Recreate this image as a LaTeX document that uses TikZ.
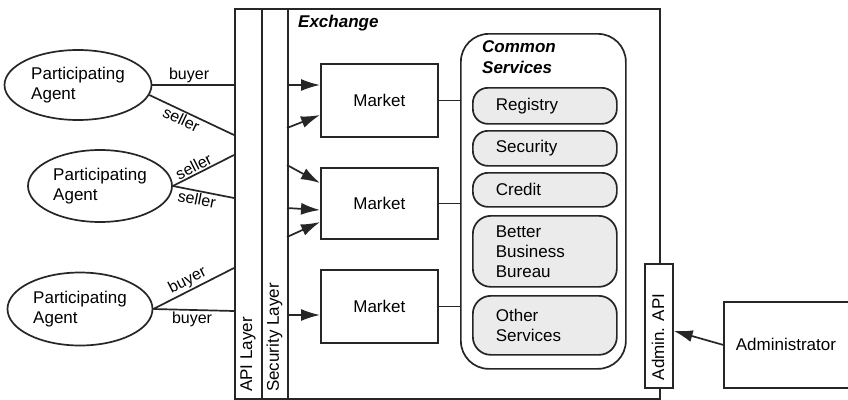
\documentclass[tikz,border=0pt]{standalone}
\usepackage{fontspec}
\setmainfont{Liberation Sans}
\usetikzlibrary{arrows.meta,shapes.geometric,calc}
\begin{document}
\begin{tikzpicture}[x=1pt,y=-1pt,
  every node/.style={font=\fontsize{17}{20}\selectfont},
  ln/.style={line width=1.7pt, draw=black!85},
  box/.style={ln, fill=white, inner sep=0pt, anchor=north west},
  ag/.style={ln, ellipse, inner sep=0pt, align=left},
  pill/.style={ln, fill=black!8, inner sep=0pt, anchor=north west, minimum width=144pt, text width=98pt, align=left},
  lab/.style={font=\fontsize{16}{18}\selectfont, inner sep=1.5pt},
  title/.style={font=\fontsize{17}{21}\selectfont\bfseries\itshape, anchor=north west, inner sep=0pt, align=left},
  arr/.style={ln, -{Latex[length=19pt,width=12pt]}},
]
\useasboundingbox (0,0) rectangle (848,399);
\fill[white] (0,0) rectangle (848,399);

% Exchange frame and layers
\node[box, minimum width=425pt, minimum height=390pt] (ex) at (234,8) {};
\node[title] (exl) at (298,15) {Exchange};
\node[box, minimum width=27pt, minimum height=390pt] (api) at (234,8) {};
\node[box, minimum width=26pt, minimum height=390pt] (sec) at (261,8) {};
\node[rotate=90, anchor=west, inner sep=0pt] (apil) at (248,392) {API Layer};
\node[rotate=90, anchor=west, inner sep=0pt] (secl) at (274.5,392) {Security Layer};

% Markets
\node[box, minimum width=117pt, minimum height=73pt] (m1) at (320,63) {Market};
\node[box, minimum width=117pt, minimum height=71pt] (m2) at (320,167) {Market};
\node[box, minimum width=117pt, minimum height=73pt] (m3) at (320,269) {Market};

% Common services
\node[box, minimum width=165pt, minimum height=335pt, rounded corners=28pt] (cs) at (460,33) {};
\node[title] (cst) at (482,40) {Common\\Services};
\node[pill, minimum height=36pt, rounded corners=15pt] (reg) at (472,87) {Registry};
\node[pill, minimum height=35pt, rounded corners=15pt] (secs) at (472,130) {Security};
\node[pill, minimum height=34pt, rounded corners=15pt] (cred) at (472,172) {Credit};
\node[pill, minimum height=71pt, rounded corners=18pt] (bbb) at (472,215) {Better\\Business\\Bureau};
\node[pill, minimum height=59pt, rounded corners=18pt] (oth) at (472,295) {Other\\Services};

\draw[ln] (m1.east) -- (m1.east -| cs.west);
\draw[ln] (m2.east) -- (m2.east -| cs.west);
\draw[ln] (m3.east) -- (m3.east -| cs.west);

% Admin
\node[box, minimum width=28pt, minimum height=124pt] (adapi) at (644,263) {};
\node[rotate=90, inner sep=0pt] (adapil) at (658,337) {Admin. API};
\node[box, minimum width=140pt, minimum height=86pt, text width=116pt, align=left] (adm) at (723,301) {Administrator};
\draw[arr] (adm.west) -- ($(adapi.east)+(0,5)$);

% Agents
\node[ag, minimum width=147pt, minimum height=70pt] (a1) at (78,85) {Participating\\Agent};
\node[ag, minimum width=144pt, minimum height=72pt] (a2) at (100,186) {Participating\\Agent};
\node[ag, minimum width=145pt, minimum height=73pt] (a3) at (80,309) {Participating\\Agent};

\coordinate (p1) at (234,85);
\coordinate (p2) at (234,135);
\coordinate (p3) at (234,155);
\coordinate (p4) at (234,198);
\coordinate (p5) at (234,268);
\coordinate (p6) at (234,311);

\draw[ln] (a1.east) -- node[lab, above, pos=0.45] {buyer} (p1);
\draw[ln] (a1.-8) -- node[lab, below, sloped, pos=0.42] {seller} (p2);
\draw[ln] (a2.east) -- node[lab, above, sloped, pos=0.4] {seller} (p3);
\draw[ln] (a2.east) -- node[lab, below, sloped, pos=0.42] {seller} (p4);
\draw[ln] (a3.east) -- node[lab, above, sloped, pos=0.48] {buyer} (p5);
\draw[ln] (a3.east) -- node[lab, below, pos=0.48] {buyer} (p6);

% Arrows from security layer to markets
\coordinate (s1) at (287,85);   \coordinate (t1) at (320,85);
\coordinate (s2) at (287,128);  \coordinate (t2) at (320,115);
\coordinate (s3) at (287,165);  \coordinate (t3) at (320,183);
\coordinate (s4) at (287,208);  \coordinate (t4) at (320,210);
\coordinate (s5) at (287,237);  \coordinate (t5) at (320,222);
\coordinate (s6) at (287,315);  \coordinate (t6) at (320,315);
\foreach \i in {1,...,6} \draw[arr] (s\i) -- (t\i);
\end{tikzpicture}
\end{document}
